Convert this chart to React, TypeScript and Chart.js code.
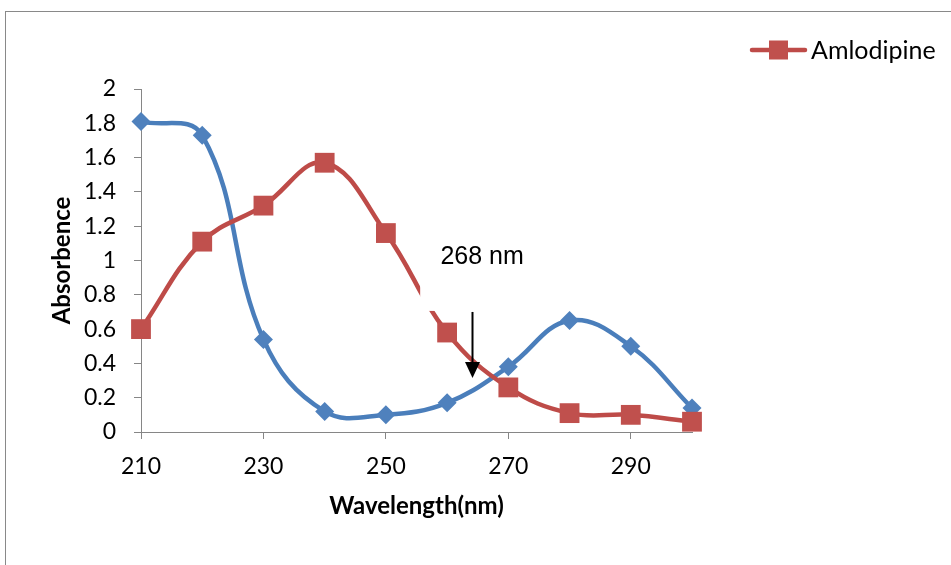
import React, { useEffect, useRef } from 'react';
import { Chart, registerables } from 'chart.js';

Chart.register(...registerables);

// ---- data ----
const wavelengths = [210, 220, 230, 240, 250, 260, 270, 280, 290, 300];
const amlodipineValues = [0.6, 1.11, 1.32, 1.57, 1.16, 0.58, 0.26, 0.11, 0.1, 0.06];
const secondValues = [1.81, 1.73, 0.54, 0.12, 0.1, 0.17, 0.38, 0.65, 0.5, 0.14];
const xTickValues = [210, 230, 250, 270, 290];
const yTickValues = [0, 0.2, 0.4, 0.6, 0.8, 1, 1.2, 1.4, 1.6, 1.8, 2];
const seriesLabel = 'Amlodipine';
const annotationText = '268 nm';
// annotation anchors in data units
const boxLeftX = 255.6;
const boxRightX = 273.5;
const boxTopY = 1.15;
const boxBottomY = 0.706;
const textX = 258.9;
const textY = 1.02;
const arrowX = 264.1;
const arrowTopY = 0.7;
const arrowTipY = 0.315;

const RED_LINE = '#BE4B48';
const RED_FILL = '#C0504D';
const BLUE_LINE = '#4A7EBB';
const BLUE_FILL = '#4F81BD';
const AXIS = '#868686';
const FONT = 'Lato, "Open Sans", sans-serif';

const framePlugin = {
  id: 'frame',
  beforeDraw(chart: any) {
    const ctx = chart.ctx;
    ctx.save();
    ctx.fillStyle = '#ffffff';
    ctx.fillRect(0, 0, chart.width, chart.height);
    ctx.strokeStyle = '#898989';
    ctx.lineWidth = 1;
    ctx.strokeRect(5.5, 11.5, 2000, 2000);
    ctx.restore();
  },
};

const annotationPlugin = {
  id: 'annot',
  afterDatasetsDraw(chart: any) {
    const ctx = chart.ctx;
    const xs = chart.scales.x;
    const ys = chart.scales.y;
    const l = xs.getPixelForValue(boxLeftX);
    const r = xs.getPixelForValue(boxRightX);
    const t = ys.getPixelForValue(boxTopY);
    const b = ys.getPixelForValue(boxBottomY);
    ctx.save();
    ctx.fillStyle = '#ffffff';
    ctx.fillRect(l, t, r - l, b - t);
    ctx.fillStyle = '#000000';
    ctx.font = '25px "Liberation Sans", Arial, sans-serif';
    ctx.textBaseline = 'middle';
    ctx.textAlign = 'left';
    ctx.fillText(annotationText, xs.getPixelForValue(textX), ys.getPixelForValue(textY));
    const ax = Math.round(xs.getPixelForValue(arrowX)) + 0.5;
    const ay0 = ys.getPixelForValue(arrowTopY);
    const ay1 = ys.getPixelForValue(arrowTipY);
    ctx.strokeStyle = '#000000';
    ctx.lineWidth = 2;
    ctx.beginPath();
    ctx.moveTo(ax, ay0);
    ctx.lineTo(ax, ay1 - 12);
    ctx.stroke();
    ctx.beginPath();
    ctx.moveTo(ax, ay1);
    ctx.lineTo(ax - 7.5, ay1 - 16);
    ctx.lineTo(ax + 7.5, ay1 - 16);
    ctx.closePath();
    ctx.fill();
    ctx.restore();
  },
};

const legendPlugin = {
  id: 'customLegend',
  afterDraw(chart: any) {
    const ctx = chart.ctx;
    const ds = chart.data.datasets[0];
    const cy = 50;
    ctx.save();
    ctx.strokeStyle = ds.borderColor;
    ctx.lineWidth = 4.5;
    ctx.lineCap = 'round';
    ctx.beginPath();
    ctx.moveTo(752, cy);
    ctx.lineTo(805, cy);
    ctx.stroke();
    ctx.fillStyle = ds.pointBackgroundColor;
    ctx.fillRect(769, cy - 9.5, 19, 19);
    ctx.fillStyle = '#000000';
    ctx.font = '25px ' + FONT;
    ctx.textBaseline = 'middle';
    ctx.textAlign = 'left';
    ctx.fillText(ds.label, 811, cy + 1);
    ctx.restore();
  },
};

export default function App() {
  const canvasRef = useRef<HTMLCanvasElement | null>(null);

  useEffect(() => {
    if (!canvasRef.current) return;
    const chart = new Chart(canvasRef.current, {
      type: 'line',
      data: {
        datasets: [
          {
            label: seriesLabel,
            data: wavelengths.map((w, i) => ({ x: w, y: amlodipineValues[i] })),
            borderColor: RED_LINE,
            backgroundColor: RED_FILL,
            pointBackgroundColor: RED_FILL,
            pointBorderColor: RED_FILL,
            pointStyle: 'rect',
            pointRadius: 14,
            pointBorderWidth: 0,
            borderWidth: 4.5,
            tension: 0.4,
            clip: false,
          },
          {
            label: '',
            data: wavelengths.map((w, i) => ({ x: w, y: secondValues[i] })),
            borderColor: BLUE_LINE,
            backgroundColor: BLUE_FILL,
            pointBackgroundColor: BLUE_FILL,
            pointBorderColor: BLUE_FILL,
            pointStyle: 'rectRot',
            pointRadius: 9.5,
            pointBorderWidth: 0,
            borderWidth: 4.5,
            tension: 0.4,
            clip: false,
          },
        ],
      },
      options: {
        animation: false,
        responsive: true,
        maintainAspectRatio: false,
        layout: { padding: { top: 89, right: 259, left: 0, bottom: 0 } },
        plugins: {
          legend: { display: false },
          tooltip: { enabled: false },
        },
        scales: {
          x: {
            type: 'linear',
            min: 210,
            max: 300,
            afterBuildTicks: (scale: any) => {
              scale.ticks = xTickValues.map((v) => ({ value: v }));
            },
            afterFit: (scale: any) => {
              scale.height = 133;
            },
            grid: { drawOnChartArea: false, color: AXIS, tickLength: 7, tickColor: AXIS },
            border: { color: AXIS, width: 1 },
            ticks: {
              color: '#000000',
              font: { family: FONT, size: 23 },
              padding: 14,
              maxRotation: 0,
              callback: (v: any) => String(v),
            },
            title: {
              display: true,
              text: 'Wavelength(nm)',
              color: '#000000',
              font: { family: FONT, size: 24, weight: 'bold' },
              padding: { top: 0, bottom: 44 },
            },
          },
          y: {
            type: 'linear',
            min: 0,
            max: 2,
            afterBuildTicks: (scale: any) => {
              scale.ticks = yTickValues.map((v) => ({ value: v }));
            },
            afterFit: (scale: any) => {
              scale.width = 141;
            },
            grid: { drawOnChartArea: false, color: AXIS, tickLength: 7, tickColor: AXIS },
            border: { color: AXIS, width: 1 },
            ticks: {
              color: '#000000',
              font: { family: FONT, size: 23 },
              padding: 18,
              callback: (v: any) => String(Math.round(Number(v) * 10) / 10),
            },
            title: {
              display: true,
              text: 'Absorbence',
              color: '#000000',
              font: { family: FONT, size: 24, weight: 'bold' },
              padding: { top: 48, bottom: 0 },
            },
          },
        },
      },
      plugins: [framePlugin, annotationPlugin, legendPlugin],
    } as any);
    return () => chart.destroy();
  }, []);

  return (
    <div style={{ position: 'fixed', left: 0, top: 0, width: 951, height: 565, background: '#fff' }}>
      <canvas ref={canvasRef} />
    </div>
  );
}
